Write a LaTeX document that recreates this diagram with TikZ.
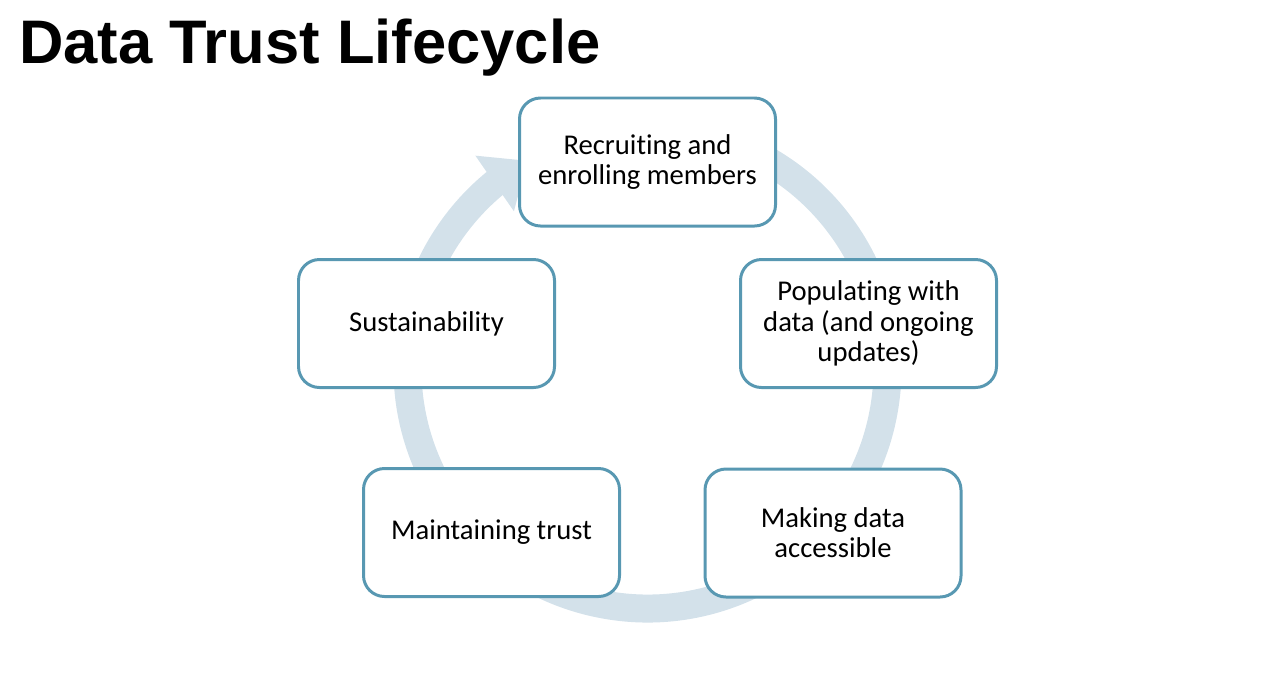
\documentclass[tikz,border=0pt]{standalone}
\usepackage{fontspec}
\setmainfont{Carlito}[Ligatures=NoCommon]
\newfontfamily\titlefont{Liberation Sans}
\usepackage{xcolor}
\usepackage{tikz}
\usetikzlibrary{arrows.meta,bending}
\definecolor{boxblue1}{RGB}{88,152,178}
\definecolor{ring1}{RGB}{211,225,234}

\begin{document}
\begin{tikzpicture}[
    stage/.style={draw=boxblue1, line width=1.7pt, fill=white, rounded corners=0.42cm,
        minimum width=5.12cm, minimum height=2.56cm, align=center,
        font=\fontsize{16.3}{17.2}\selectfont},
    ring/.style={ring1, line width=0.56cm, -{Triangle[width=1.3cm, length=0.8cm, flex]}}
]
    \useasboundingbox (0,0) rectangle (25.24,-13.56);
    % Title
    \node[anchor=base west, inner sep=0pt, font=\titlefont\bfseries\fontsize{35}{40}\selectfont]
        (title) at (0.38,-1.26) {Data Trust Lifecycle};
    % Ring
    \coordinate (hub) at (12.95,-7.37);
    \draw[ring] (hub) ++(80:4.8) arc[start angle=80, end angle=-240, radius=4.8];
    % Stages
    \node[stage] (recruit) at (12.95,-3.24) {Recruiting and\\enrolling members};
    \node[stage] (populate) at (17.37,-6.47) {Populating with\\data (and ongoing\\updates)};
    \node[stage] (access) at (16.66,-10.66) {Making data\\accessible};
    \node[stage] (trust) at (9.83,-10.65) {Maintaining trust};
    \node[stage] (sustain) at (8.53,-6.47) {Sustainability};
\end{tikzpicture}
\end{document}
